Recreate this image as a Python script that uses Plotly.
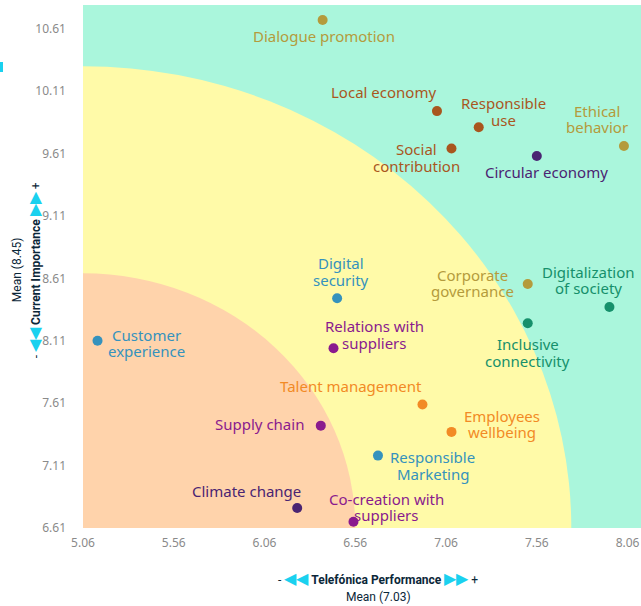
import plotly.graph_objects as go

# ---------------- data ----------------
topics = [
    "Dialogue promotion", "Local economy", "Responsible use", "Social contribution",
    "Ethical behavior", "Circular economy", "Corporate governance", "Digitalization of society",
    "Inclusive connectivity", "Digital security", "Customer experience", "Relations with suppliers",
    "Talent management", "Employees wellbeing", "Supply chain", "Responsible Marketing",
    "Climate change", "Co-creation with suppliers",
]
performance = [6.38, 7.01, 7.24, 7.09, 8.04, 7.56, 7.51, 7.96, 7.51, 6.46, 5.14, 6.44,
               6.93, 7.09, 6.37, 6.685, 6.24, 6.55]
importance = [10.68, 9.95, 9.82, 9.65, 9.67, 9.59, 8.565, 8.38, 8.25, 8.45, 8.11, 8.05,
              7.60, 7.38, 7.43, 7.19, 6.77, 6.66]
groups = ["gold", "brown", "brown", "brown", "gold", "violet", "gold", "green",
          "green", "blue", "blue", "purple", "orange", "orange", "purple", "blue",
          "violet", "purple"]
label_lines = [
    ["Dialogue promotion"], ["Local economy"], ["Responsible", "use"], ["Social", "contribution"],
    ["Ethical", "behavior"], ["Circular economy"], ["Corporate", "governance"],
    ["Digitalization", "of society"], ["Inclusive", "connectivity"], ["Digital", "security"],
    ["Customer", "experience"], ["Relations with", "suppliers"], ["Talent management"],
    ["Employees", "wellbeing"], ["Supply chain"], ["Responsible", "Marketing"],
    ["Climate change"], ["Co-creation with", "suppliers"],
]
x_ticks = [5.06, 5.56, 6.06, 6.56, 7.06, 7.56, 8.06]
y_ticks = [6.61, 7.11, 7.61, 8.11, 8.61, 9.11, 9.61, 10.11, 10.61]
x_mean = 7.03
y_mean = 8.45

# ---------------- styles ----------------
palette = {
    "gold": "#b49b3c", "brown": "#a9561e", "violet": "#4a2472", "green": "#16906b",
    "blue": "#3592bd", "purple": "#8a1a8e", "orange": "#f28a25",
}
# label offsets in pixels (dx, dy up) relative to the point
label_offsets = [
    (1, -16), (-53, 19), (25, 16), (-35, -9), (-27, 27), (10, -16), (-55, 1), (-21, 27),
    (0, -29), (4, 27), (49, -2), (41, 14), (-71, 18), (51, 8), (-61, 2), (55, -10),
    (-51, 17), (33, 15),
]
FONT = "Noto Sans"
CYAN = "#1ad1ef"
NAVY = "#0b2739"
x_range = [5.06, 8.134]
y_range = [6.61, 10.80]

fig = go.Figure()

fig.add_trace(go.Scatter(
    x=performance, y=importance, mode="markers",
    marker=dict(size=10, color=[palette[g] for g in groups], line=dict(width=0)),
    text=topics, hoverinfo="text", showlegend=False,
))

# background bands (quarter circles around the bottom-left corner)
ox, oy = x_range[0], y_range[0]
fig.add_shape(type="circle", xref="x", yref="y", layer="below",
              x0=ox - 2.69, x1=ox + 2.69, y0=oy - 3.70, y1=oy + 3.70,
              fillcolor="#fffaa8", line=dict(width=0))
fig.add_shape(type="circle", xref="x", yref="y", layer="below",
              x0=ox - 1.50, x1=ox + 1.50, y0=oy - 2.04, y1=oy + 2.04,
              fillcolor="#ffd3ab", line=dict(width=0))

LINE_H = 16.5
for i, lines in enumerate(label_lines):
    dx, dy = label_offsets[i]
    n = len(lines)
    for j, ln in enumerate(lines):
        shift = dy + (n - 1) / 2 * LINE_H - j * LINE_H
        fig.add_annotation(
            x=performance[i], y=importance[i], text=ln, showarrow=False,
            xanchor="center", yanchor="middle", xshift=dx, yshift=shift,
            font=dict(family=FONT, size=15, color=palette[groups[i]]),
        )

# axis titles
arrow_l = f"<span style='color:{CYAN};font-size:16px'>◀◀</span>"
arrow_r = f"<span style='color:{CYAN};font-size:16px'>▶▶</span>"
fig.add_annotation(
    xref="paper", yref="paper", x=0.529, y=0, yshift=-50, showarrow=False,
    xanchor="center", yanchor="middle",
    text=f"- {arrow_l} <b>Telefónica Performance</b> {arrow_r} +",
    font=dict(family="Roboto", size=12, color=NAVY),
)
fig.add_annotation(
    xref="paper", yref="paper", x=0.529, y=0, yshift=-69, showarrow=False,
    xanchor="center", yanchor="middle", text=f"Mean ({x_mean:.2f})",
    font=dict(family="Roboto", size=12, color=NAVY),
)
fig.add_annotation(
    xref="paper", yref="paper", x=0, xshift=-49, y=0.493, showarrow=False,
    xanchor="center", yanchor="middle", textangle=-90,
    text=f"- {arrow_l} <b>Current Importance</b> {arrow_r} +",
    font=dict(family="Roboto", size=12, color=NAVY),
)
fig.add_annotation(
    xref="paper", yref="paper", x=0, xshift=-66, y=0.493, showarrow=False,
    xanchor="center", yanchor="middle", textangle=-90,
    text=f"Mean ({y_mean:.2f})",
    font=dict(family="Roboto", size=12, color=NAVY),
)
# small cyan mark at the left edge
fig.add_shape(type="rect", xref="paper", yref="paper",
              x0=-83 / 558, x1=-80 / 558, y0=(528 - 72) / 523, y1=(528 - 62) / 523,
              fillcolor=CYAN, line=dict(width=0))

fig.update_layout(
    width=641, height=606,
    margin=dict(l=83, r=0, t=5, b=78),
    paper_bgcolor="white", plot_bgcolor="#aaf6dc",
    font=dict(family=FONT),
    xaxis=dict(range=x_range, tickvals=x_ticks, ticktext=[f"{v:.2f}" for v in x_ticks],
               showgrid=False, zeroline=False, showline=False, ticks="",
               tickfont=dict(family=FONT, size=12, color="#8a8a8a"), ticklabelstandoff=6),
    yaxis=dict(range=y_range, tickvals=y_ticks, ticktext=[f"{v:.2f}" for v in y_ticks],
               showgrid=False, zeroline=False, showline=False, ticks="",
               tickfont=dict(family=FONT, size=12, color="#8a8a8a"), ticklabelstandoff=16),
)

fig.write_html(
    "out.html",
    config={"displayModeBar": False},
    post_script="document.body.style.margin='0px';document.body.style.overflow='hidden';",
)
